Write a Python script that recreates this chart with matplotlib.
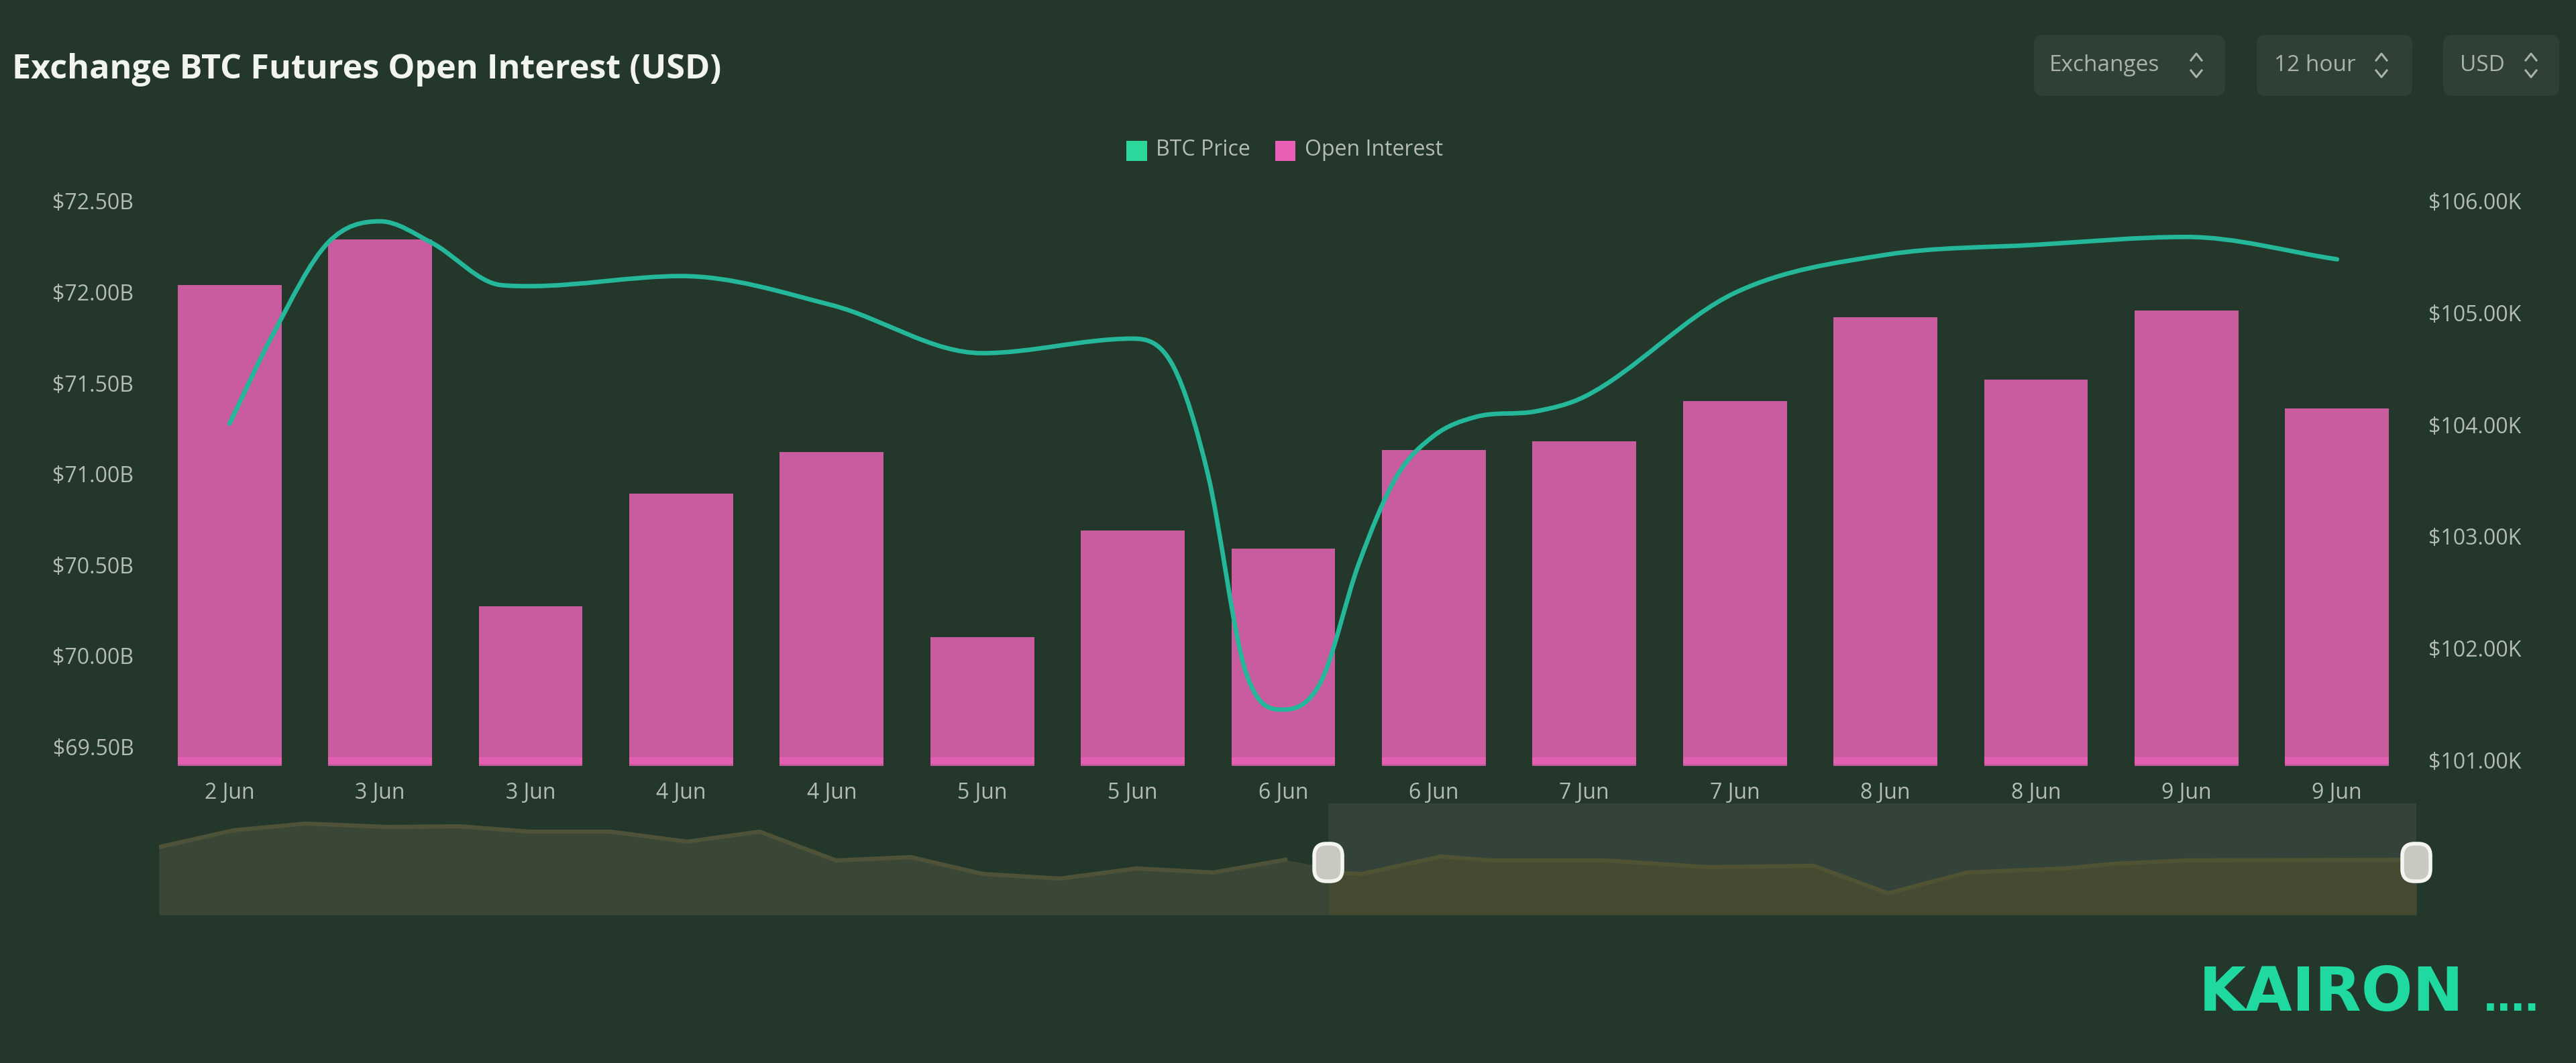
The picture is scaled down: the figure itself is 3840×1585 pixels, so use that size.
import matplotlib
matplotlib.use("Agg")
import matplotlib.pyplot as plt
from matplotlib.patches import FancyBboxPatch, PathPatch, Rectangle
from matplotlib.path import Path

# chart data
DATE_LABELS = ["2 Jun", "3 Jun", "3 Jun", "4 Jun", "4 Jun", "5 Jun", "5 Jun", "6 Jun",
               "6 Jun", "7 Jun", "7 Jun", "8 Jun", "8 Jun", "9 Jun", "9 Jun"]
OPEN_INTEREST = [72.04, 72.29, 70.27, 70.89, 71.12, 70.10, 70.69, 70.59,
                 71.13, 71.18, 71.40, 71.86, 71.52, 71.90, 71.36]
# price line is read at more places than the bars, the drop needs it
PRICE_POS = [0, 0.285, 0.655, 1, 1.34, 1.8, 2, 3, 4, 5, 6, 6.27, 6.5, 6.75, 7, 7.25, 7.5, 7.75,
             8, 8.28, 8.68, 9, 10, 11, 12, 13, 14]
BTC_PRICE = [104.01, 104.80, 105.63, 105.82, 105.63, 105.25, 105.24, 105.33, 105.07, 104.64, 104.77,
             104.52, 103.55, 101.79, 101.45, 101.70, 102.75, 103.53,
             103.90, 104.07, 104.12, 104.25, 105.18, 105.52, 105.61, 105.68, 105.48]
OI_TICKS = [69.5, 70.0, 70.5, 71.0, 71.5, 72.0, 72.5]
PRICE_TICKS = [101, 102, 103, 104, 105, 106]

# overview strip under the chart (percent of the time range / relative level)
MINI_POS = [0, 3.3, 6.5, 10.1, 13.3, 16.4, 20, 23.4, 26.6, 30, 33.3, 36.5, 39.9, 43.3, 46.7,
            49.9, 53.3, 56.8, 59, 64.1, 68.6, 73.3, 76.6, 80.1, 84.4, 86.6, 89.7, 99.4, 100]
MINI_LEVEL = [60.8, 75.9, 81.9, 78.9, 79.5, 74.7, 74.7, 65.7, 74.7, 48.8, 51.8, 36.7, 32.5, 41.6, 38,
              49.4, 36.7, 52.4, 48.8, 48.8, 42.8, 44, 19.3, 38, 41.6, 45.8, 48.8, 49.4, 48.2]
SELECT_START = 51.8
SELECT_END = 100

BG = "#24372b"
PINK = "#c95b9f"
PINK_EDGE = "#e25fb2"
TEAL = "#24b79a"
TEXT = "#b4bcb8"
W, H = 3840, 1585
FONT = "Open Sans"


def px_axes(fig, left, top, right, bottom):
    return fig.add_axes([left / W, 1 - bottom / H, (right - left) / W, (bottom - top) / H])


def smooth_path(xs, ys):
    # monotone cubic through the points, zero slope at local extremes
    slopes = [(ys[i + 1] - ys[i]) / (xs[i + 1] - xs[i]) for i in range(len(xs) - 1)]
    tang = [slopes[0]]
    for a, b in zip(slopes[:-1], slopes[1:]):
        if a * b <= 0:
            tang.append(0.0)
        else:
            m = (a + b) / 2
            lim = 3 * min(abs(a), abs(b))
            tang.append(max(-lim, min(lim, m)))
    tang.append(slopes[-1])
    verts = [(xs[0], ys[0])]
    codes = [Path.MOVETO]
    for i in range(len(xs) - 1):
        h = (xs[i + 1] - xs[i]) / 3
        verts += [(xs[i] + h, ys[i] + tang[i] * h),
                  (xs[i + 1] - h, ys[i + 1] - tang[i + 1] * h),
                  (xs[i + 1], ys[i + 1])]
        codes += [Path.CURVE4] * 3
    return Path(verts, codes)


fig = plt.figure(figsize=(W / 100, H / 100), dpi=100, facecolor=BG)

# main chart
ax = px_axes(fig, 230, 300, 3596, 1142)
ax.set_facecolor("none")
xs = list(range(len(DATE_LABELS)))
bottom = 69.393
ax.bar(xs, [v - bottom for v in OPEN_INTEREST], bottom=bottom, width=0.69, color=PINK, zorder=2)
ax.bar(xs, [0.035] * len(xs), bottom=bottom + 0.012, width=0.69, color=PINK_EDGE, zorder=2)
ax.set_xlim(-0.5, 14.5)
ax.set_ylim(bottom, 72.5)
ax.set_yticks(OI_TICKS)
ax.set_yticklabels([f"${v:.2f}B" for v in OI_TICKS])
ax.set_xticks(xs)
ax.set_xticklabels(DATE_LABELS)
ax.tick_params(axis="y", length=0, pad=22, labelsize=23, labelcolor=TEXT)
ax.tick_params(axis="x", length=0, pad=17, labelsize=23, labelcolor=TEXT)
for lab in ax.get_xticklabels() + ax.get_yticklabels():
    lab.set_fontfamily(FONT)
for s in ax.spines.values():
    s.set_visible(False)

ax2 = ax.twinx()
ax2.set_facecolor("none")
ax2.set_ylim(100.946, 106)
ax2.set_yticks(PRICE_TICKS)
ax2.set_yticklabels([f"${v:.2f}K" for v in PRICE_TICKS])
ax2.tick_params(axis="y", length=0, pad=17, labelsize=23, labelcolor=TEXT)
for lab in ax2.get_yticklabels():
    lab.set_fontfamily(FONT)
for s in ax2.spines.values():
    s.set_visible(False)
ax2.add_patch(PathPatch(smooth_path(PRICE_POS, BTC_PRICE), fill=False, edgecolor=TEAL, lw=4.8,
                        capstyle="round", zorder=3))

# overview strip
mini = px_axes(fig, 237, 1198, 3602, 1364)
mini.set_facecolor("none")
mini.set_xlim(0, 100)
mini.set_ylim(0, 100)
mini.axis("off")
mini.fill_between(MINI_POS, MINI_LEVEL, 0, color="#3b4736", lw=0, zorder=1)
mini.add_patch(Rectangle((SELECT_START, 0), SELECT_END - SELECT_START, 100,
                         facecolor="#334339", edgecolor="none", zorder=2))
sel_pos = [p for p in MINI_POS if p >= 53]
sel_lev = MINI_LEVEL[-len(sel_pos):]
mini.fill_between([SELECT_START] + sel_pos, [38] + sel_lev, 0, color="#454b32", lw=0, zorder=3)
mini.plot(MINI_POS[:16], MINI_LEVEL[:16], color="#4e5238", lw=4.5, zorder=4)
mini.plot([SELECT_START] + sel_pos, [38] + sel_lev, color="#4f5233", lw=4.5, zorder=4)

# page furniture in pixel coordinates
top = fig.add_axes([0, 0, 1, 1], zorder=10)
top.set_facecolor("none")
top.set_xlim(0, W)
top.set_ylim(H, 0)
top.axis("off")

top.text(18, 104, "Exchange BTC Futures Open Interest (USD)", color="#f2f4f2", fontsize=36.3,
         fontweight="bold", family=FONT, va="center")

for x0, x1, label, tx, cx in [(3032, 3317, "Exchanges", 3055, 3274),
                              (3364, 3596, "12 hour", 3390, 3550),
                              (3642, 3815, "USD", 3667, 3773)]:
    top.add_patch(FancyBboxPatch((x0 + 14, 52 + 14), x1 - x0 - 28, 91 - 28,
                                 boxstyle="round,pad=14,rounding_size=14",
                                 facecolor="#2f4135", edgecolor="none"))
    top.text(tx, 97, label, color="#a9b2ad", fontsize=24, family=FONT, va="center")
    top.plot([cx - 8, cx, cx + 8], [90, 80, 90], color="#a9b2ad", lw=2.2)
    top.plot([cx - 8, cx, cx + 8], [105, 115, 105], color="#a9b2ad", lw=2.2)

top.add_patch(Rectangle((1679, 210), 31, 30, facecolor="#2bd79b", edgecolor="none"))
top.text(1723, 224, "BTC Price", color=TEXT, fontsize=23, family=FONT, va="center")
top.add_patch(Rectangle((1901, 210), 30, 30, facecolor="#e95fb6", edgecolor="none"))
top.text(1945, 224, "Open Interest", color=TEXT, fontsize=23, family=FONT, va="center")

for pct in (SELECT_START, SELECT_END):
    hx = 237 + (3602 - 237) * pct / 100
    top.add_patch(FancyBboxPatch((hx - 3, 1276), 6, 20, boxstyle="round,pad=18,rounding_size=18",
                                 facecolor="#c9c9c2", edgecolor="#f4f4f0", lw=4))

top.text(3278, 1507, "KAIRON", color="#1fd9a0", fontsize=65, fontweight="bold",
         family="DejaVu Sans", va="baseline")
top.text(3702, 1507, "....", color="#1fd9a0", fontsize=54, fontweight="bold",
         family="Liberation Sans", va="baseline")

fig.savefig("out.png", dpi=100, facecolor=BG)
